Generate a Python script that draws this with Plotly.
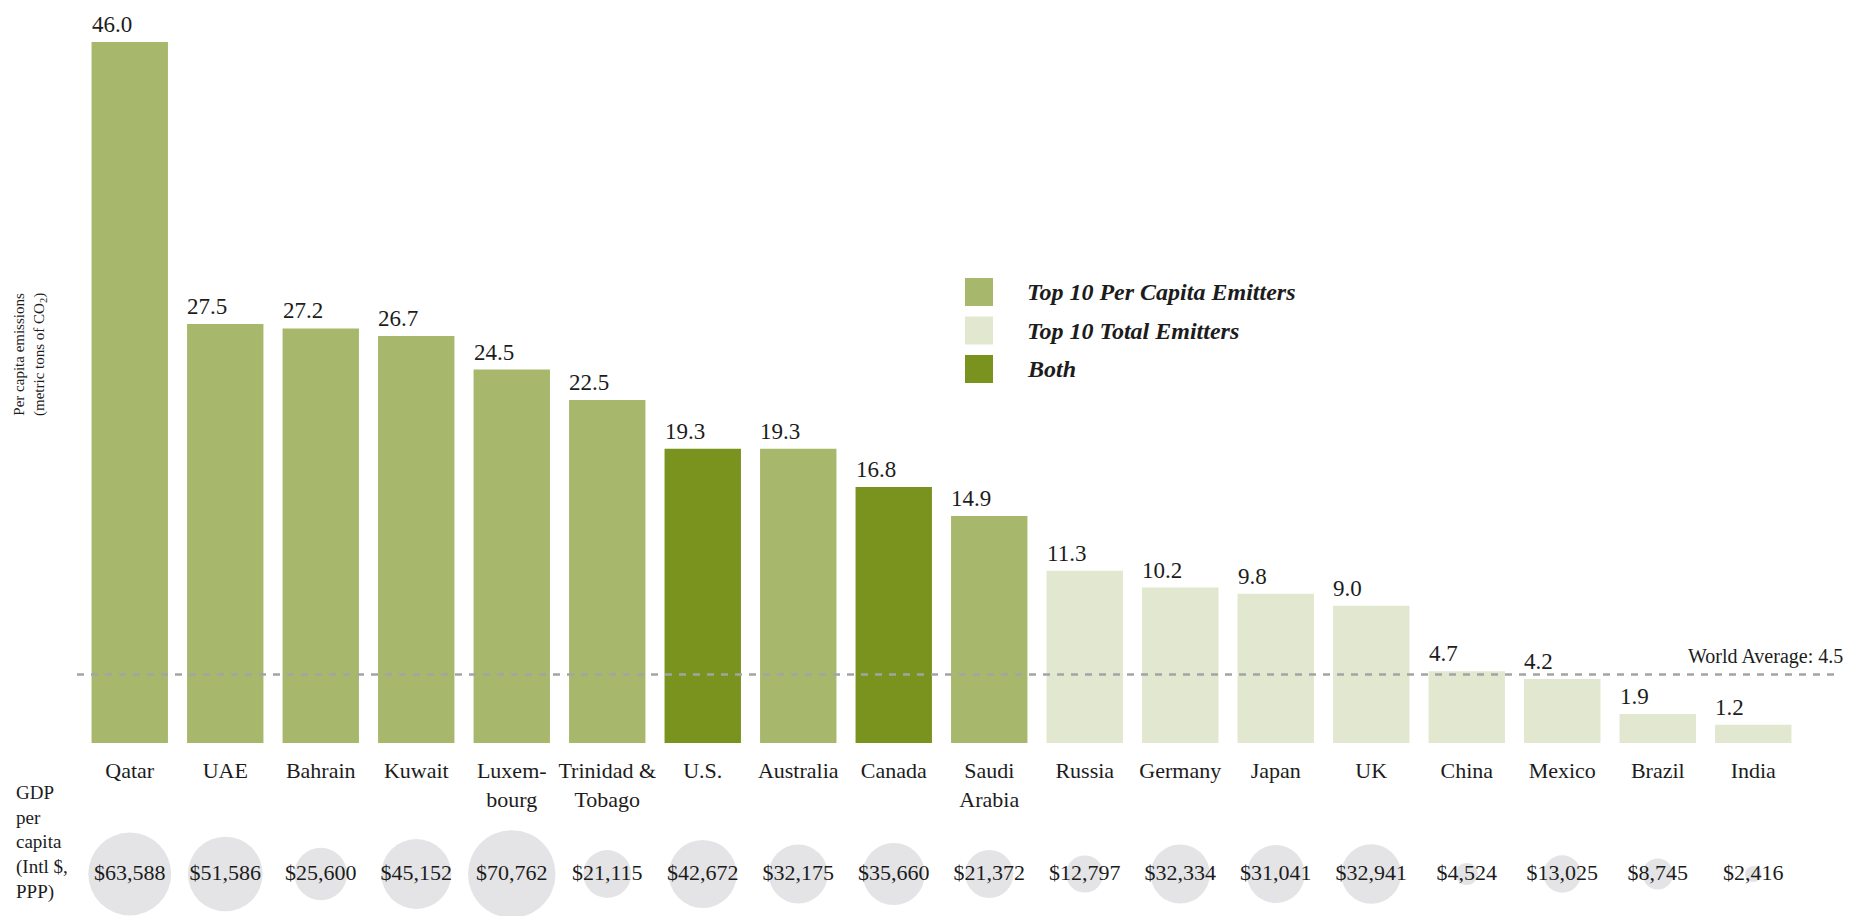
import math
import plotly.graph_objects as go

# ---------------- data ----------------
countries = ["Qatar", "UAE", "Bahrain", "Kuwait", "Luxembourg", "Trinidad & Tobago",
             "U.S.", "Australia", "Canada", "Saudi Arabia", "Russia", "Germany",
             "Japan", "UK", "China", "Mexico", "Brazil", "India"]
tick_labels = ["Qatar", "UAE", "Bahrain", "Kuwait", "Luxem-<br>bourg", "Trinidad &<br>Tobago",
               "U.S.", "Australia", "Canada", "Saudi<br>Arabia", "Russia", "Germany",
               "Japan", "UK", "China", "Mexico", "Brazil", "India"]
emissions = [46.0, 27.5, 27.2, 26.7, 24.5, 22.5, 19.3, 19.3, 16.8, 14.9,
             11.3, 10.2, 9.8, 9.0, 4.7, 4.2, 1.9, 1.2]
groups = ["per_capita", "per_capita", "per_capita", "per_capita", "per_capita", "per_capita",
          "both", "per_capita", "both", "per_capita",
          "total", "total", "total", "total", "total", "total", "total", "total"]
gdp_per_capita = [63588, 51586, 25600, 45152, 70762, 21115, 42672, 32175, 35660, 21372,
                  12797, 32334, 31041, 32941, 4524, 13025, 8745, 2416]
legend_keys = ["per_capita", "total", "both"]
legend_labels = ["Top 10 Per Capita Emitters", "Top 10 Total Emitters", "Both"]
world_average = 4.5

# ---------------- style ----------------
group_colors = {"per_capita": "#a7b86c", "total": "#e2e7cf", "both": "#7a931f"}
FONT = "Liberation Serif, Times New Roman, serif"
TXT = "#1c1c1c"
W, H = 1860, 916
base_px = 743
px_per_unit = 15.24
y_dom0 = (H - base_px) / H
ymax = base_px / px_per_unit
circle_k = 0.329  # px diameter per sqrt($)

fig = go.Figure()

fig.add_bar(
    x=countries, y=emissions,
    marker=dict(color=[group_colors[g] for g in groups], line=dict(width=0)),
    showlegend=False, hoverinfo="x+y",
)

fig.add_scatter(
    x=countries, y=[0] * len(countries), yaxis="y2",
    mode="markers+text",
    marker=dict(size=[circle_k * math.sqrt(g) for g in gdp_per_capita],
                color="#d8d8dc", line=dict(width=0)),
    text=[f"${g:,}" for g in gdp_per_capita],
    textposition="middle center",
    textfont=dict(family=FONT, size=22, color=TXT),
    showlegend=False, hoverinfo="text", cliponaxis=False,
)

annotations = []
for c, v in zip(countries, emissions):
    annotations.append(dict(
        x=c, y=v, xref="x", yref="y", text=f"{v:.1f}", showarrow=False,
        xanchor="left", yanchor="bottom", xshift=-40, yshift=3,
        font=dict(family=FONT, size=23, color=TXT)))

annotations.append(dict(
    x=1845 / W, y=world_average, xref="paper", yref="y",
    text="World Average: 4.5", showarrow=False, xanchor="right", yanchor="bottom",
    yshift=4, font=dict(family=FONT, size=20, color=TXT)))

annotations.append(dict(
    x=30 / W, y=1 - 355 / H, xref="paper", yref="paper",
    text="Per capita emissions<br>(metric tons of CO<sub>2</sub>)", textangle=-90,
    showarrow=False, xanchor="center", yanchor="middle",
    font=dict(family=FONT, size=15, color=TXT)))

annotations.append(dict(
    x=14 / W, y=1 - 842 / H, xref="paper", yref="paper",
    text="GDP<br>per<br>capita<br>(Intl $,<br>PPP)", align="left",
    showarrow=False, xanchor="left", yanchor="middle",
    font=dict(family=FONT, size=19, color=TXT)))

shapes = [dict(
    type="line", xref="paper", yref="y", x0=77 / W, x1=1837 / W,
    y0=world_average, y1=world_average, layer="above",
    line=dict(color="#a4a4a4", width=2.5, dash="7px,7px"))]

for i, (k, lab) in enumerate(zip(legend_keys, legend_labels)):
    cy = 292 + 38.5 * i
    shapes.append(dict(
        type="rect", xref="paper", yref="paper",
        x0=965 / W, x1=993 / W, y0=1 - (cy - 14) / H, y1=1 - (cy + 14) / H,
        fillcolor=group_colors[k], line=dict(width=0)))
    annotations.append(dict(
        x=1025 / W, y=1 - cy / H, xref="paper", yref="paper", text=f"<b><i>{lab}</i></b>",
        showarrow=False, xanchor="left", yanchor="middle",
        font=dict(family=FONT, size=24, color=TXT)))

fig.update_layout(
    width=W, height=H,
    margin=dict(l=0, r=0, t=0, b=0),
    paper_bgcolor="white", plot_bgcolor="white",
    bargap=0.2,
    showlegend=False,
    xaxis=dict(domain=[82 / W, 1801 / W], range=[-0.5, len(countries) - 0.5],
               autorange=False, tickmode="array", tickvals=countries,
               ticktext=tick_labels, ticks="", showline=False, showgrid=False,
               zeroline=False, tickfont=dict(family=FONT, size=22, color=TXT),
               tickangle=0, anchor="y", ticklabelstandoff=12),
    yaxis=dict(domain=[y_dom0, 1], range=[0, ymax], visible=False),
    yaxis2=dict(domain=[0, y_dom0], range=[-42, (H - base_px) - 42], visible=False,
                anchor="x"),
    annotations=annotations,
    shapes=shapes,
)

fig.write_html("out.html", config={"displayModeBar": False},
               post_script="document.body.style.margin='0';")
